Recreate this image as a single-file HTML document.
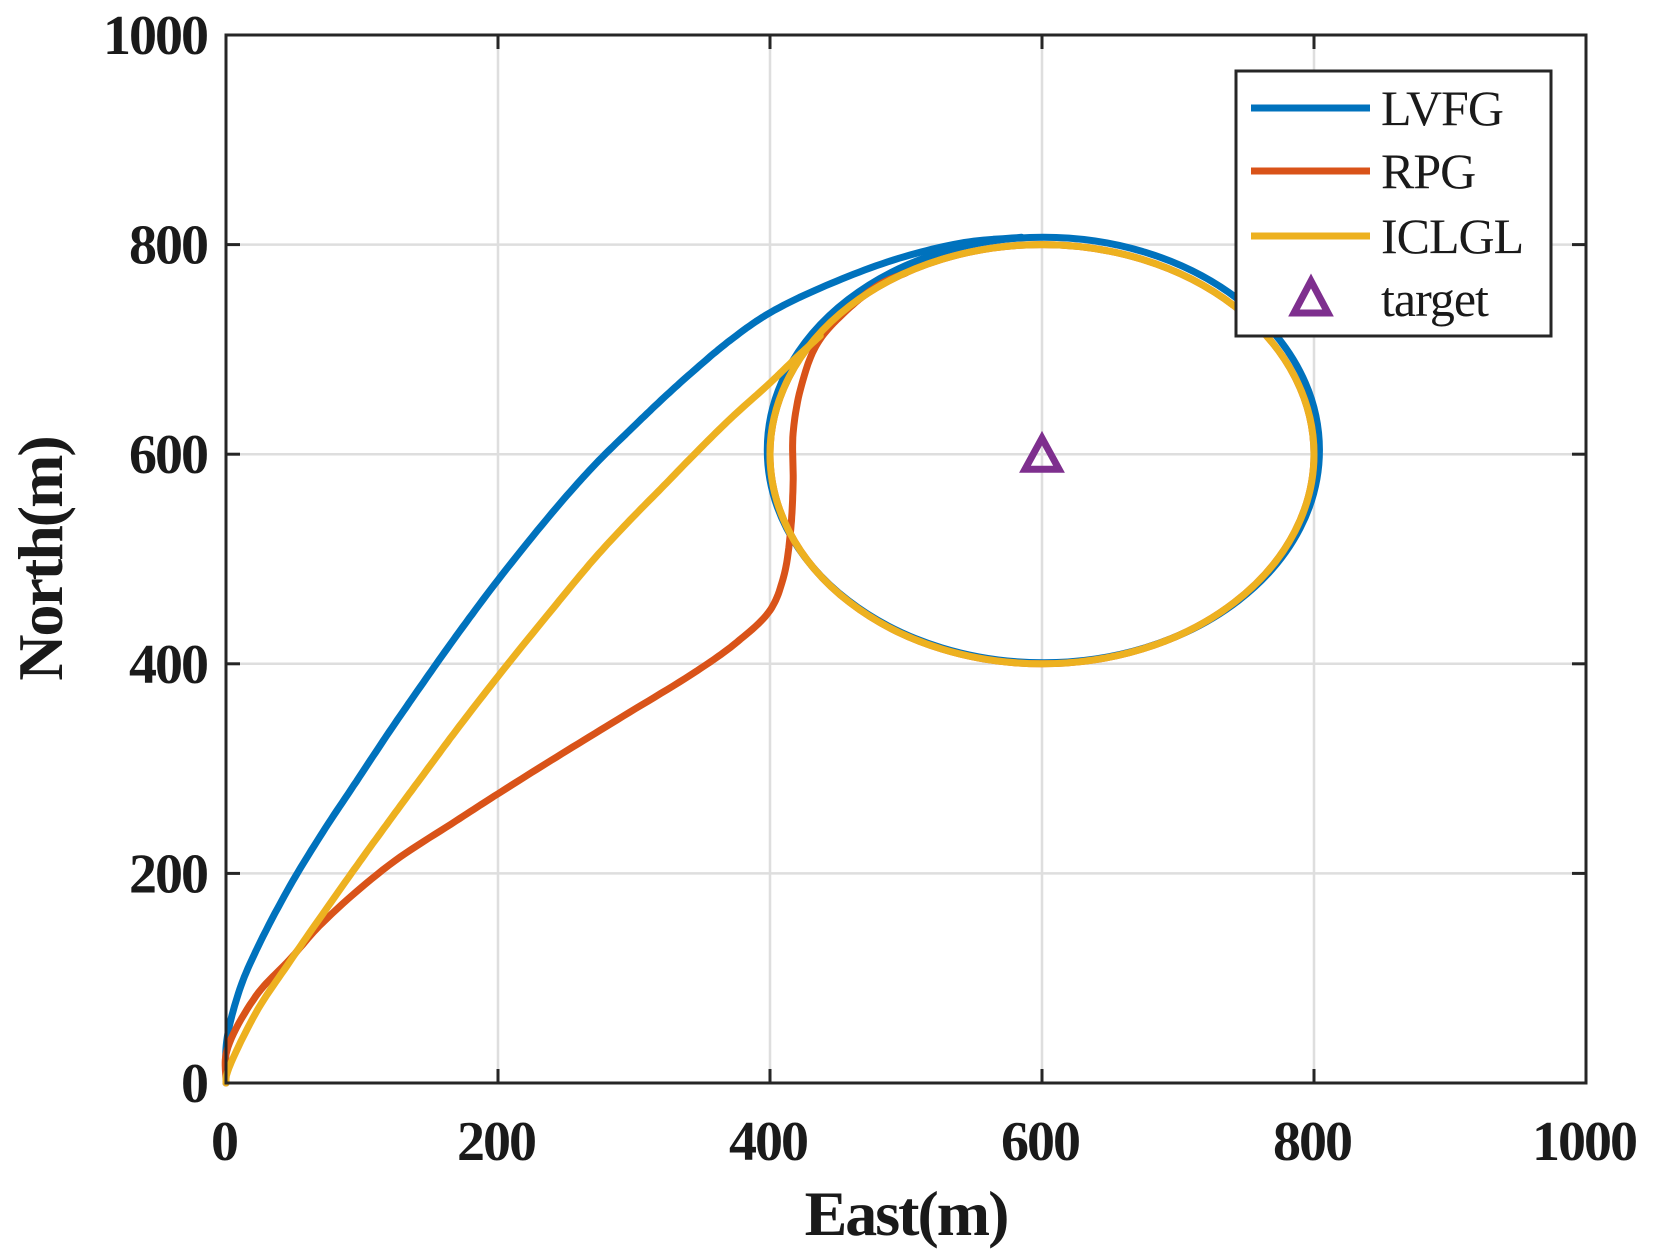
<!DOCTYPE html>
<html><head><meta charset="utf-8"><style>
html,body{margin:0;padding:0;background:#fff;}
svg{display:block;}
text{font-family:"Liberation Serif",serif;fill:#1a1a1a;}
</style></head><body>
<svg id="chart" width="1653" height="1259" viewBox="0 0 1653 1259">
<g id="grid"></g>
<g id="series"></g>
<rect x="226" y="35" width="1360" height="1048" fill="none" stroke="#262626" stroke-width="3"/>
<g id="ticks"></g>
<text x="906" y="1235" text-anchor="middle" font-size="64" font-weight="bold" letter-spacing="-2">East(m)</text>
<text transform="translate(62,559) rotate(-90)" text-anchor="middle" font-size="64" font-weight="bold" letter-spacing="-2">North(m)</text>
<g>
<rect x="1236" y="71" width="315" height="265" fill="#fff" stroke="#262626" stroke-width="3"/>
<line x1="1251" y1="108" x2="1370" y2="108" stroke="#0072BD" stroke-width="7"/>
<text x="1381" y="125" font-size="50" letter-spacing="-1">LVFG</text>
<line x1="1251" y1="171" x2="1370" y2="171" stroke="#D95319" stroke-width="7"/>
<text x="1381" y="188" font-size="50" letter-spacing="-1">RPG</text>
<line x1="1251" y1="236" x2="1370" y2="236" stroke="#EDB120" stroke-width="7"/>
<text x="1381" y="253" font-size="50" letter-spacing="-1">ICLGL</text>
<polygon points="1311,281 1328,313 1294,313" fill="none" stroke="#7E2F8E" stroke-width="7" stroke-linejoin="miter"/>
<text x="1381" y="316" font-size="50" letter-spacing="-1">target</text>
</g>
</svg>
<script>
const xTicks=[0,200,400,600,800,1000];
const yTicks=[0,200,400,600,800,1000];
const lvfgX=[0,0.5,10,22,47,71,96,120,145,169,200,243,272,297,322,346,371,400,445,495,543,585];
const lvfgY=[0,40,89,126,188,239,288,335,382,426,480,549,591,623,654,682,709,735,763,787,802,807];
const rpgX=[0,0.5,22,47,71,120,169,200,243,292,346,376,400,410,415,417,417,423,435,457,482,500];
const rpgY=[0,30,83,118,153,208,250,276,311,350,393,421,451,483,525,572,620,665,706,738,763,773];
const iclglX=[0,0.5,22,47,71,96,120,145,169,200,243,272,297,322,346,371,400,420,437];
const iclglY=[0,8,67,116,161,207,250,294,336,388,457,502,537,570,602,634,668,693,713];
const orbitCX=[601,600,600];
const orbitCY=[604,600,600];
const orbitR=[203,200,200];
const targetX=[600];
const targetY=[600];
const X0=226,X1=1586,Y0=1083,Y1=35;
const sx=v=>X0+(v/1000)*(X1-X0);
const sy=v=>Y0-(v/1000)*(Y0-Y1);
const NS='http://www.w3.org/2000/svg';
const grid=document.getElementById('grid'),ticks=document.getElementById('ticks'),series=document.getElementById('series');
function mk(tag,attrs,parent){const e=document.createElementNS(NS,tag);for(const k in attrs)e.setAttribute(k,attrs[k]);parent.appendChild(e);return e;}
xTicks.forEach(v=>{
  if(v>0&&v<1000){const g=mk('line',{x1:sx(v),x2:sx(v),y1:Y1,y2:Y0,stroke:'#dedede','stroke-width':2.5},grid);
  
  }
  const t1=mk('line',{x1:sx(v),x2:sx(v),y1:Y0,y2:Y0-14,stroke:'#262626','stroke-width':3},ticks);
  
  
  const t2=mk('line',{x1:sx(v),x2:sx(v),y1:Y1,y2:Y1+14,stroke:'#262626','stroke-width':3},ticks);
  
  
  const l=mk('text',{x:sx(v)-2,y:1160,'text-anchor':'middle','font-size':56,'font-weight':'bold','letter-spacing':-2},ticks);
  l.textContent=v;
  
  
});
yTicks.forEach(v=>{
  if(v>0&&v<1000){const g=mk('line',{x1:X0,x2:X1,y1:sy(v),y2:sy(v),stroke:'#dedede','stroke-width':2.5},grid);
  
  }
  const t1=mk('line',{x1:X0,x2:X0+14,y1:sy(v),y2:sy(v),stroke:'#262626','stroke-width':3},ticks);
  
  
  const t2=mk('line',{x1:X1,x2:X1-14,y1:sy(v),y2:sy(v),stroke:'#262626','stroke-width':3},ticks);
  
  
  const l=mk('text',{x:207,y:sy(v)+19,'text-anchor':'end','font-size':56,'font-weight':'bold','letter-spacing':-2},ticks);
  l.textContent=v;
  
  
});
// centripetal Catmull-Rom sampled into a polyline
function smooth(xs,ys){
  const P=xs.map((x,i)=>[sx(x),sy(ys[i])]);
  const n=P.length;
  const pts=[P[0]];
  const ext0=[2*P[0][0]-P[1][0],2*P[0][1]-P[1][1]];
  const extN=[2*P[n-1][0]-P[n-2][0],2*P[n-1][1]-P[n-2][1]];
  const Q=[ext0,...P,extN];
  const dist=(a,b)=>Math.max(Math.pow(Math.hypot(b[0]-a[0],b[1]-a[1]),0.5),1e-4);
  for(let i=1;i<Q.length-2;i++){
    const p0=Q[i-1],p1=Q[i],p2=Q[i+1],p3=Q[i+2];
    const t0=0,t1=t0+dist(p0,p1),t2=t1+dist(p1,p2),t3=t2+dist(p2,p3);
    for(let s=1;s<=12;s++){
      const t=t1+(t2-t1)*s/12;
      const L=(a,b,ta,tb)=>[a[0]*(tb-t)/(tb-ta)+b[0]*(t-ta)/(tb-ta),a[1]*(tb-t)/(tb-ta)+b[1]*(t-ta)/(tb-ta)];
      const A1=L(p0,p1,t0,t1),A2=L(p1,p2,t1,t2),A3=L(p2,p3,t2,t3);
      const B1=L(A1,A2,t0,t2),B2=L(A2,A3,t1,t3);
      pts.push(L(B1,B2,t1,t2));
    }
  }
  return 'M'+pts.map(p=>p[0].toFixed(1)+','+p[1].toFixed(1)).join(' L');
}
const cols=['#0072BD','#D95319','#EDB120'];
const names=['lvfg','rpg','iclgl'];
const xs=[lvfgX,rpgX,iclglX],ys=[lvfgY,rpgY,iclglY];
for(let i=0;i<3;i++){
  const p=mk('path',{d:smooth(xs[i],ys[i]),fill:'none',stroke:cols[i],'stroke-width':7,'stroke-linecap':'round','stroke-linejoin':'round'},series);
  
  
  const c=mk('ellipse',{cx:sx(orbitCX[i]),cy:sy(orbitCY[i]),rx:sx(orbitR[i])-sx(0),ry:sy(0)-sy(orbitR[i]),fill:'none',stroke:cols[i],'stroke-width':7},series);
  
  
}
targetX.forEach((v,i)=>{
  const cx=sx(v),cy=sy(targetY[i]);
  const t=mk('polygon',{points:`${cx},${cy-16} ${cx+17},${cy+15} ${cx-17},${cy+15}`,fill:'none',stroke:'#7E2F8E','stroke-width':7},series);
  
  
});
</script>
</body></html>
